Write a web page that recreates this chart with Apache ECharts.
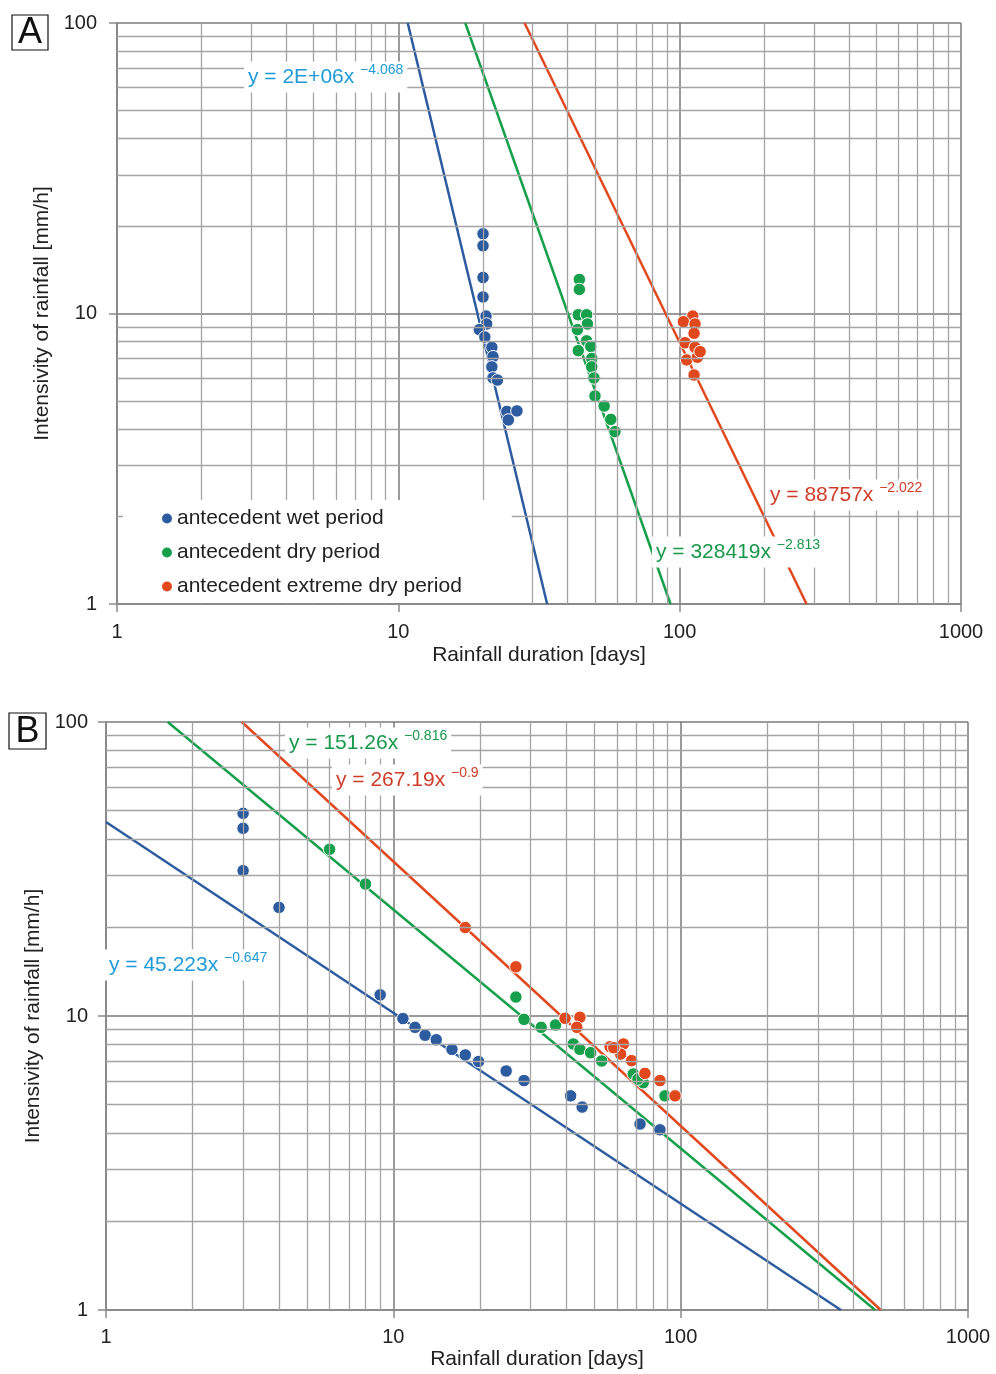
<!DOCTYPE html>
<html>
<head>
<meta charset="utf-8">
<script src="https://cdn.jsdelivr.net/npm/echarts@6/dist/echarts.min.js"></script>
<style>
html, body { margin: 0; padding: 0; background: #fff; }
#chart { width: 996px; height: 1374px; }
</style>
</head>
<body>
<div id="chart"></div>
<script>
// [rainfall duration (days), intensity (mm/h)]
// panel A
const aWet = [[20, 18.8], [20, 17.1], [20, 13.3], [20, 11.4], [20.5, 9.8], [20.6, 9.2], [19.4, 8.8],
  [20.3, 8.3], [21.5, 7.65], [21.7, 7.1], [21.5, 6.55], [21.7, 6.0], [22.5, 5.9], [24.3, 4.6],
  [26.4, 4.62], [24.6, 4.3]];
const aDry = [[44, 13.1], [44, 12.1], [43.6, 9.9], [46.7, 9.9], [47, 9.2], [43.3, 8.8], [46.7, 8.05],
  [48.3, 7.7], [43.6, 7.45], [48.7, 7.0], [48.7, 6.55], [49.6, 6.0], [50, 5.2], [53.9, 4.8],
  [56.9, 4.32], [58.9, 3.92]];
const aExtreme = [[111.3, 9.8], [103.1, 9.37], [113.4, 9.2], [112.5, 8.55], [104.5, 7.93],
  [113.4, 7.65], [105.9, 6.92], [115.6, 7.07], [118.2, 7.39], [112.5, 6.14]];
// fitted power lines, end points
const aWetFit = [[10.8, 100], [33.8, 1]];
const aDryFit = [[17.3, 100], [92.8, 1]];
const aExtremeFit = [[28.1, 100], [282.5, 1]];

// panel B
const bWet = [[3, 48.9], [3, 43.5], [3, 31.2], [4, 23.4], [9, 11.8], [10.8, 9.8], [11.9, 9.15],
  [12.9, 8.6], [14.1, 8.3], [16, 7.7], [17.8, 7.37], [19.8, 7.0], [24.7, 6.5], [28.5, 6.03],
  [41.4, 5.35], [45.4, 4.9], [72.2, 4.29], [84.7, 4.1]];
const bDry = [[6, 36.9], [8, 28.1], [26.7, 11.6], [28.5, 9.74], [32.7, 9.15], [36.7, 9.32],
  [42.3, 8.03], [44.6, 7.7], [48.6, 7.5], [53.1, 7.03], [68.4, 6.35], [74.1, 5.93], [71, 6.1],
  [88.2, 5.35]];
const bExtreme = [[17.8, 20.0], [26.7, 14.7], [39.6, 9.82], [44.6, 9.9], [43.5, 9.15], [56.8, 7.86],
  [63.2, 8.03], [61.8, 7.42], [67.5, 7.05], [75.1, 6.38], [84.7, 6.03], [95.6, 5.35], [58.5, 7.8]];
const bWetFit = [[1, 45.7], [361, 1]];
const bDryFit = [[1.64, 100], [475, 1]];
const bExtremeFit = [[2.97, 100], [497, 1]];

const names = ['antecedent wet period', 'antecedent dry period', 'antecedent extreme dry period'];
const colors = ['#2d5b9f', '#17a04b', '#e2481e'];
const labelColors = ['#1e9ad6', '#17984a', '#cf3c28'];

// log grid values between the decades
const minorX = [2, 3, 4, 5, 6, 7, 8, 9, 20, 30, 40, 50, 60, 70, 80, 90, 200, 300, 400, 500, 600, 700, 800, 900];
const minorY = [2, 3, 4, 5, 6, 7, 8, 9, 20, 30, 40, 50, 60, 70, 80, 90];

const font = "'Liberation Sans', Arial, sans-serif";
const txt = '#222';

function xAxisFor(grid, labelMargin, gap) {
  return {
    type: 'log', logBase: 10, min: 1, max: 1000, gridIndex: grid,
    name: 'Rainfall duration [days]', nameLocation: 'middle', nameGap: gap,
    nameTextStyle: { fontSize: 21, color: txt, fontFamily: font },
    axisLine: { show: true, lineStyle: { color: '#8a8a8a', width: 2 } },
    axisTick: { show: true, length: 8, lineStyle: { color: '#8a8a8a', width: 1.5 } },
    axisLabel: { fontSize: 20, color: txt, fontFamily: font, margin: labelMargin,
      formatter: v => String(Math.round(v)) },
    splitLine: { show: true, lineStyle: { color: '#7a7a7a', width: 1.5 } }
  };
}
function yAxisFor(grid, labelMargin) {
  return {
    type: 'log', logBase: 10, min: 1, max: 100, gridIndex: grid,
    name: 'Intensivity of rainfall [mm/h]', nameLocation: 'middle', nameGap: 62,
    nameTextStyle: { fontSize: 21, color: txt, fontFamily: font },
    axisLine: { show: true, lineStyle: { color: '#8a8a8a', width: 2 } },
    axisTick: { show: true, length: 8, lineStyle: { color: '#8a8a8a', width: 1.5 } },
    axisLabel: { fontSize: 20, color: txt, fontFamily: font, margin: labelMargin,
      formatter: v => String(Math.round(v)) },
    splitLine: { show: true, lineStyle: { color: '#7a7a7a', width: 1.5 } }
  };
}

function minorGrid(idx) {
  return {
    name: 'grid' + idx, type: 'scatter', data: [], xAxisIndex: idx, yAxisIndex: idx, z: 1,
    markLine: {
      silent: true, symbol: ['none', 'none'], animation: false,
      label: { show: false },
      lineStyle: { color: '#a4a4a4', width: 1.3, type: 'solid' },
      emphasis: { disabled: true },
      data: minorX.map(v => ({ xAxis: v })).concat(minorY.map(v => ({ yAxis: v })))
    }
  };
}
function fitLine(idx, data, c) {
  return { name: 'fit', type: 'line', data: data, xAxisIndex: idx, yAxisIndex: idx, z: 3,
    showSymbol: false, silent: true, lineStyle: { color: c, width: 2.5 } };
}
function points(idx, name, data, c) {
  return { name: name, type: 'scatter', data: data, xAxisIndex: idx, yAxisIndex: idx, z: 4,
    symbolSize: 12.5, itemStyle: { color: c, borderColor: '#fff', borderWidth: 1, opacity: 1 } };
}

function eq(x, y, main, sup, c) {
  return {
    type: 'text', z: 100,
    style: {
      x: x, y: y, align: 'left', verticalAlign: 'middle',
      text: '{m|' + main + '}{s|' + sup + '}',
      backgroundColor: '#fff', padding: [2, 4, 2, 4],
      rich: {
        m: { fontSize: 21, fontFamily: font, fill: c, lineHeight: 27 },
        s: { fontSize: 14, fontFamily: font, fill: c, lineHeight: 17, verticalAlign: 'top' }
      }
    }
  };
}
function panelLetter(x, y, w, h, letter) {
  return {
    type: 'group', z: 100,
    children: [
      { type: 'rect', shape: { x: x, y: y, width: w, height: h },
        style: { fill: '#fff', stroke: '#111', lineWidth: 1.2 } },
      { type: 'text', style: { x: x + w / 2, y: y + h / 2 + 1, text: letter, align: 'center',
        verticalAlign: 'middle', fontSize: 36, fontFamily: font, fill: '#111' } }
    ]
  };
}

const chart = echarts.init(document.getElementById('chart'));
chart.setOption({
  backgroundColor: '#fff',
  animation: false,
  textStyle: { fontFamily: font },
  grid: [
    { left: 117, top: 23, width: 844, height: 581 },
    { left: 106, top: 722, width: 862, height: 588 }
  ],
  xAxis: [xAxisFor(0, 18, 41), xAxisFor(1, 17, 39)],
  yAxis: [yAxisFor(0, 20), yAxisFor(1, 18)],
  legend: {
    data: names, orient: 'vertical', left: 123, top: 500,
    padding: [8, 50, 6, 39], backgroundColor: '#fff', z: 10,
    icon: 'circle', itemWidth: 10, itemHeight: 10, itemGap: 13,
    itemStyle: { borderWidth: 0 },
    selectedMode: false,
    textStyle: { fontSize: 21, color: txt, fontFamily: font }
  },
  series: [
    minorGrid(0), minorGrid(1),
    fitLine(0, aWetFit, colors[0]), fitLine(0, aDryFit, colors[1]), fitLine(0, aExtremeFit, colors[2]),
    fitLine(1, bWetFit, colors[0]), fitLine(1, bDryFit, colors[1]), fitLine(1, bExtremeFit, colors[2]),
    points(0, names[0], aWet, colors[0]), points(0, names[1], aDry, colors[1]), points(0, names[2], aExtreme, colors[2]),
    points(1, names[0], bWet, colors[0]), points(1, names[1], bDry, colors[1]), points(1, names[2], bExtreme, colors[2])
  ],
  graphic: [
    panelLetter(12, 15, 36, 35, 'A'),
    panelLetter(9, 713, 37, 36, 'B'),
    eq(244, 77, 'y = 2E+06x ', '\u22124.068', labelColors[0]),
    eq(652, 552, 'y = 328419x ', '\u22122.813', labelColors[1]),
    eq(766, 495, 'y = 88757x ', '\u22122.022', labelColors[2]),
    eq(285, 743, 'y = 151.26x ', '\u22120.816', labelColors[1]),
    eq(332, 780, 'y = 267.19x ', '\u22120.9', labelColors[2]),
    eq(105, 965, 'y = 45.223x ', '\u22120.647', labelColors[0])
  ]
});
</script>
</body>
</html>
